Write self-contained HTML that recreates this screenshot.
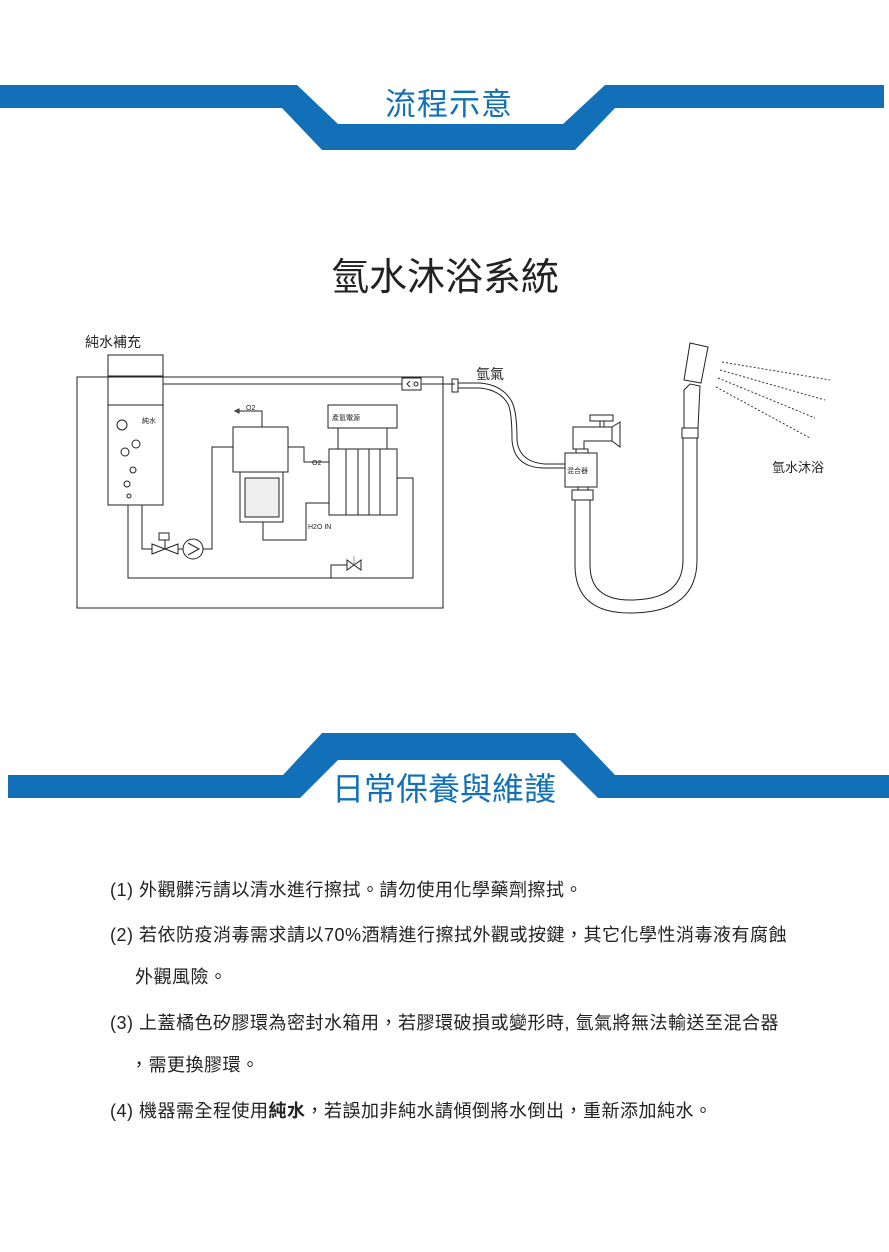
<!DOCTYPE html>
<html><head><meta charset="utf-8"><style>
html,body{margin:0;padding:0;background:#fff;width:889px;height:1252px;overflow:hidden;position:relative;font-family:"Liberation Sans","Noto Sans CJK TC",sans-serif;}
.t{position:absolute;white-space:nowrap;}
.p{position:absolute;left:110px;font-size:18px;color:#222;white-space:nowrap;letter-spacing:0.5px;}
</style></head><body>
<svg width="889" height="1252" style="position:absolute;left:0;top:0">
<polygon points="0,85 297,85 338,124 563,124 605,85 884,85 884,108 615,108 575,150 322,150 282,108 0,108" fill="#1170b8"/>
<polygon points="8,775 283,775 322,733 575,733 615,775 889,775 889,798 598,798 560,760 338,760 300,798 8,798" fill="#1170b8"/>
<g fill="none" stroke="#222" stroke-width="1">
<rect x="77" y="377" width="366" height="231"/>
<rect x="108" y="355" width="55" height="21"/>
<rect x="108" y="377" width="55" height="128"/>
<line x1="108" y1="405" x2="163" y2="405"/>
<line x1="163" y1="384" x2="455" y2="384"/>
<rect x="402" y="378" width="19" height="12" fill="#fff"/>
<circle cx="416" cy="384" r="2"/>
<polyline points="410,381 407,384 410,387"/>
<circle cx="122" cy="425" r="5"/><circle cx="136" cy="444" r="4"/><circle cx="125" cy="452" r="4"/>
<circle cx="133" cy="470" r="3"/><circle cx="127" cy="484" r="3"/><circle cx="129" cy="496" r="2"/>
<polyline points="237,411 262,411 262,427"/>
<polygon points="235,411 239,409 239,413"/>
<rect x="233" y="427" width="55" height="45"/>
<rect x="240" y="472" width="43" height="50"/>
<rect x="245" y="478" width="34" height="39" fill="#eee"/>
<polyline points="142,505 142,549 152,549"/>
<polygon points="152,544 165,549 152,554"/><polygon points="178,544 165,549 178,554"/>
<line x1="165" y1="549" x2="165" y2="540"/>
<rect x="159" y="533" width="10" height="7"/>
<line x1="178" y1="549" x2="183" y2="549"/>
<circle cx="193" cy="549" r="10"/>
<polyline points="188,543 199,549 188,555"/>
<polyline points="203,549 212,549 212,447 233,447"/>
<polyline points="288,447 304,447 304,462 329,462"/>
<rect x="328" y="405" width="69" height="23"/>
<line x1="338" y1="428" x2="338" y2="449"/><line x1="387" y1="428" x2="387" y2="449"/>
<rect x="329" y="449" width="68" height="66"/>
<line x1="346" y1="449" x2="346" y2="515"/><line x1="358" y1="449" x2="358" y2="515"/>
<line x1="369" y1="449" x2="369" y2="515"/><line x1="380" y1="449" x2="380" y2="515"/>
<polyline points="329,503 306,503 306,540 263,540 263,522"/>
<polyline points="397,478 413,478 413,578 128,578 128,505"/>
<polyline points="331,578 331,565 347,565"/>
<polygon points="347,560 354,565 347,570"/><polygon points="361,560 354,565 361,570"/>
<line x1="354" y1="565" x2="354" y2="556" stroke="#999"/>
<rect x="452" y="379" width="6" height="13"/>
<path d="M458,383 L480,383 Q503,385 512,402 Q517,412 517,440 Q519,462 545,464 L565,464"/>
<path d="M458,388 L480,388 Q500,390 508,404 Q512,412 512,440 Q514,468 545,468 L565,468"/>
<rect x="565" y="453" width="32" height="34"/>
<rect x="576" y="449" width="12" height="4"/>
<path d="M573,427 L612,427 L612,441 L584,441 L584,449 L573,449 Z"/>
<rect x="590" y="415" width="23" height="6"/><line x1="600" y1="421" x2="600" y2="427"/><line x1="604" y1="421" x2="604" y2="427"/>
<path d="M612,427 L620,422 L620,447 L612,441"/>
<rect x="578" y="487" width="10" height="3"/>
<rect x="572" y="490" width="21" height="10"/>
<path d="M575,500 L575,565 Q575,613 630,613 Q697,613 697,560 L697,438"/>
<path d="M590,500 L590,565 Q590,600 630,600 Q683,600 683,560 L683,438"/>
<rect x="682" y="428" width="16" height="10"/>
<path d="M684,428 L684,390 L690,384 L700,386 L698,428"/>
<polygon points="690,343 708,347 701,383 684,380"/>
</g>
<g stroke="#333" stroke-width="1" stroke-dasharray="2,2" fill="none">
<line x1="722" y1="362" x2="830" y2="380"/><line x1="720" y1="370" x2="825" y2="400"/>
<line x1="718" y1="378" x2="815" y2="418"/><line x1="716" y1="387" x2="810" y2="438"/>
</g>
<g font-family="Liberation Sans,Noto Sans CJK TC,sans-serif" fill="#222">
<text x="142" y="423" font-size="7">純水</text>
<text x="246" y="410" font-size="7">O2</text>
<text x="312" y="465" font-size="7">O2</text>
<text x="332" y="420" font-size="7">產氫電源</text>
<text x="308" y="529" font-size="7">H2O IN</text>
<text x="567" y="473" font-size="7">混合器</text>
</g>
</svg>
<div class="t" style="left:385px;top:79px;font-size:31px;color:#1170b8;letter-spacing:1px">流程示意</div>
<div class="t" style="left:331px;top:246px;font-size:38px;color:#222">氫水沐浴系統</div>
<div class="t" style="left:85px;top:332px;font-size:14px;color:#222">純水補充</div>
<div class="t" style="left:476px;top:364px;font-size:14px;color:#222">氫氣</div>
<div class="t" style="left:772px;top:457px;font-size:13px;color:#222">氫水沐浴</div>
<div class="t" style="left:332px;top:764px;font-size:32px;color:#1170b8">日常保養與維護</div>
<div class="p" style="top:876px">(1) 外觀髒污請以清水進行擦拭。請勿使用化學藥劑擦拭。</div>
<div class="p" style="top:921px">(2) 若依防疫消毒需求請以70%酒精進行擦拭外觀或按鍵，其它化學性消毒液有腐蝕</div>
<div class="p" style="top:963px;left:135px">外觀風險。</div>
<div class="p" style="top:1009px">(3) 上蓋橘色矽膠環為密封水箱用，若膠環破損或變形時, 氫氣將無法輸送至混合器</div>
<div class="p" style="top:1051px;left:130px">，需更換膠環。</div>
<div class="p" style="top:1097px">(4) 機器需全程使用<b>純水</b>，若誤加非純水請傾倒將水倒出，重新添加純水。</div>
</body></html>
